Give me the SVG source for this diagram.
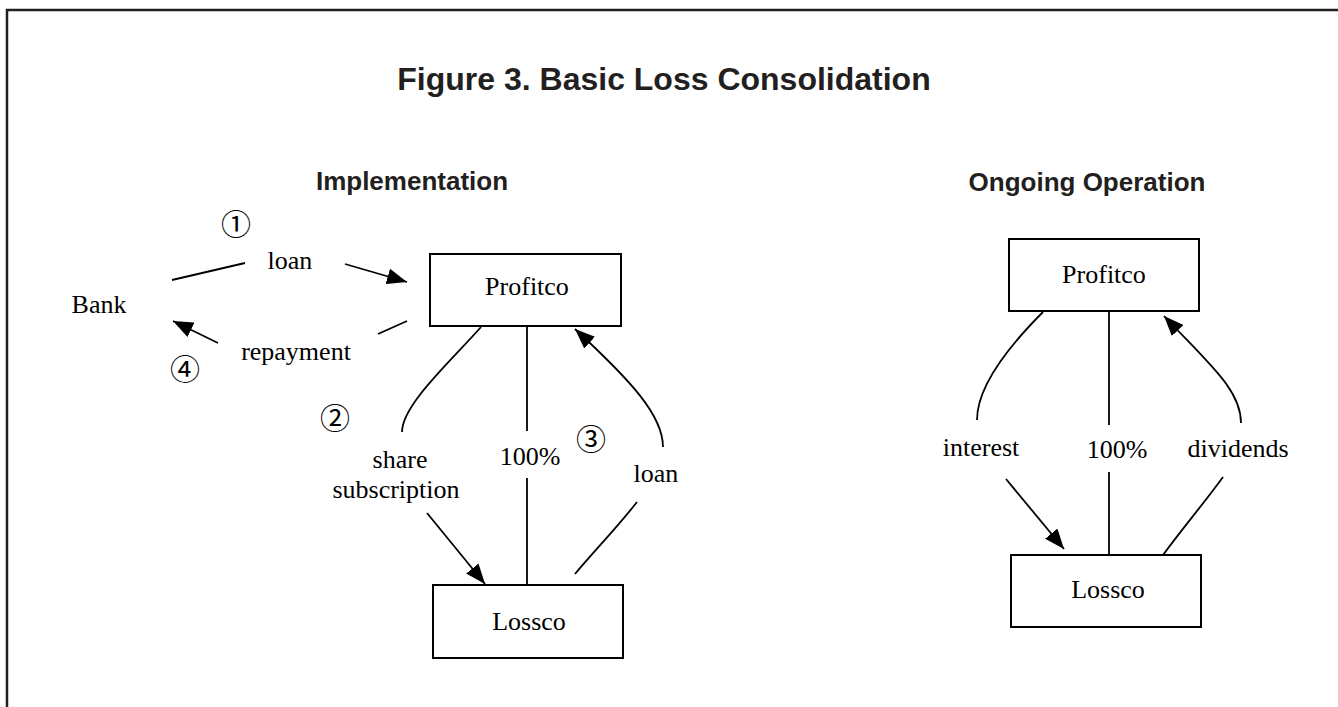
<svg xmlns="http://www.w3.org/2000/svg" width="1338" height="707" viewBox="0 0 1338 707">
<style>
.frame{fill:none;stroke:#231f20;stroke-width:2.5}
.box{fill:#fff;stroke:#000;stroke-width:2}
.lbl{font-family:"Liberation Serif","Times New Roman",serif;font-size:26px;fill:#000;text-anchor:middle}
.num{font-family:"Liberation Serif","DejaVu Serif","Noto Sans CJK JP",serif;font-size:30px;fill:#000;text-anchor:middle}
.head{font-family:"Liberation Sans",Arial,sans-serif;font-weight:bold;font-size:26px;fill:#231f20;text-anchor:middle}
.title{font-family:"Liberation Sans",Arial,sans-serif;font-weight:bold;font-size:32px;fill:#231f20;text-anchor:middle}
.ln{fill:none;stroke:#000;stroke-width:1.8}
.arr{fill:none;stroke:#000;stroke-width:1.8;marker-end:url(#ah)}
</style>
<defs>
<marker id="ah" viewBox="0 0 20 16" refX="20" refY="8" markerWidth="20" markerHeight="16" orient="auto" markerUnits="userSpaceOnUse">
<path d="M0,0 L20,8 L0,16 Z" fill="#000"/>
</marker>
</defs>
<rect width="1338" height="707" fill="#fff"/>
<path class="frame" d="M7,707 L7,10 L1338,10"/>
<text class="title" x="664" y="90">Figure 3. Basic Loss Consolidation</text>
<text class="head" x="412" y="190">Implementation</text>
<text class="head" x="1087" y="191">Ongoing Operation</text>

<g id="bank"><text class="lbl" x="99" y="313">Bank</text></g>
<g id="profitco-impl"><rect class="box" x="430" y="254" width="191" height="72"/><text class="lbl" x="527" y="295">Profitco</text></g>
<g id="lossco-impl"><rect class="box" x="433" y="585" width="190" height="73"/><text class="lbl" x="529" y="630">Lossco</text></g>
<g id="profitco-ongoing"><rect class="box" x="1009" y="239" width="190" height="72"/><text class="lbl" x="1104" y="283">Profitco</text></g>
<g id="lossco-ongoing"><rect class="box" x="1011" y="555" width="190" height="72"/><text class="lbl" x="1108" y="598">Lossco</text></g>

<g id="connectors">
<line class="ln" x1="172" y1="280" x2="245" y2="263"/>
<line class="arr" x1="345" y1="264" x2="407" y2="282"/>
<text class="lbl" x="290" y="269">loan</text>
<text class="num" x="236" y="235">①</text>

<line class="ln" x1="407" y1="321" x2="378" y2="334"/>
<line class="arr" x1="218" y1="343" x2="173" y2="321"/>
<text class="lbl" x="296" y="360">repayment</text>
<text class="num" x="185" y="380">④</text>

<path class="ln" d="M481,327 C450,362 402,405 402,432"/>
<text class="lbl" x="400" y="468">share</text>
<text class="lbl" x="396" y="498">subscription</text>
<line class="arr" x1="427" y1="513" x2="485" y2="584"/>
<text class="num" x="335" y="429">②</text>

<line class="ln" x1="527" y1="327" x2="527" y2="431"/>
<text class="lbl" x="530" y="465">100%</text>
<line class="ln" x1="527" y1="478" x2="527" y2="585"/>

<path class="arr" d="M663,447 C663,415 630,380 575,329"/>
<text class="lbl" x="656" y="482">loan</text>
<path class="ln" d="M637,502 C615,530 595,550 575,574"/>
<text class="num" x="591" y="450">③</text>

<path class="ln" d="M1043,312 C1010,345 977,385 977,420"/>
<text class="lbl" x="981" y="456">interest</text>
<line class="arr" x1="1006" y1="479" x2="1064" y2="549"/>

<line class="ln" x1="1109" y1="312" x2="1109" y2="425"/>
<text class="lbl" x="1117" y="458">100%</text>
<line class="ln" x1="1109" y1="472" x2="1109" y2="555"/>

<path class="arr" d="M1241,423 C1241,390 1210,365 1164,316"/>
<text class="lbl" x="1238" y="457">dividends</text>
<path class="ln" d="M1223,477 C1205,502 1185,525 1163,555"/>
</g>
</svg>
